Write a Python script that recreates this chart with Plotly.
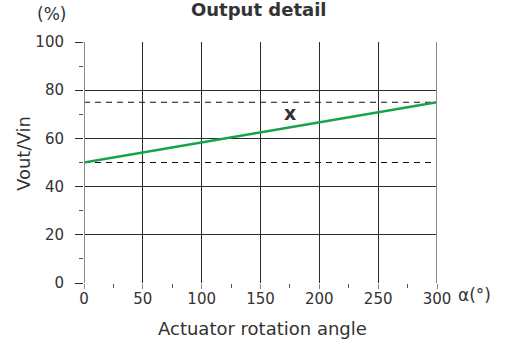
import plotly.graph_objects as go

angle = [0, 300]
ratio = [50, 75]
ref_levels = [75, 50]
x_ticks = [0, 50, 100, 150, 200, 250, 300]
y_ticks = [0, 20, 40, 60, 80, 100]

FONT = "DejaVu Sans"
TXT = "#333333"
GRID = "#2b2b2b"

L, R, T, B = 84, 437, 42, 283
def px(x):
    return (x - L) / (R - L)
def py(y):
    return (B - y) / (B - T)

fig = go.Figure()
for lv in ref_levels:
    fig.add_trace(go.Scatter(x=angle, y=[lv, lv], mode="lines",
                             line=dict(color="#111111", width=1, dash="6px,5px"),
                             showlegend=False, hoverinfo="skip"))
fig.add_trace(go.Scatter(x=angle, y=ratio, mode="lines",
                         line=dict(color="#14a54a", width=2.6),
                         showlegend=False))

def label(x, y, text, size, **kw):
    fig.add_annotation(x=px(x), y=py(y), xref="paper", yref="paper",
                       xanchor="center", yanchor="middle",
                       text=text, showarrow=False,
                       font=dict(family=FONT, size=size, color=TXT), **kw)

fig.add_annotation(x=175, y=70.5, text="<b>x</b>", showarrow=False,
                   xanchor="center", yanchor="middle",
                   font=dict(family=FONT, size=19, color=TXT))
label(258, 9, "<b>Output detail</b>", 18)
label(51, 14, "(%)", 17)
label(474, 295, "α(°)", 17)
label(262, 328, "Actuator rotation angle", 18)
label(23, 154, "Vout/Vin", 18, textangle=-90)

fig.update_xaxes(range=[0, 300], tickvals=x_ticks, showgrid=True,
                 gridcolor=GRID, gridwidth=1, zeroline=False,
                 showline=False, automargin=False,
                 ticks="outside", ticklen=5, tickcolor="#888888",
                 ticklabelstandoff=-3,
                 minor=dict(tickvals=[25, 75, 125, 175, 225, 275], ticks="outside",
                            ticklen=4, tickcolor="#555555", showgrid=False),
                 tickfont=dict(family=FONT, size=15, color=TXT))
fig.update_yaxes(range=[0, 100], tickvals=y_ticks, showgrid=True,
                 gridcolor=GRID, gridwidth=1, zeroline=False,
                 showline=False, automargin=False,
                 ticks="outside", ticklen=8, tickcolor=GRID,
                 ticklabelstandoff=8,
                 minor=dict(tickvals=[10, 30, 50, 70, 90], ticks="outside",
                            ticklen=4, tickcolor="#555555", showgrid=False),
                 tickfont=dict(family=FONT, size=15, color=TXT))

for xv in [0, 300]:
    fig.add_shape(type="line", x0=xv, x1=xv, y0=0, y1=100, xref="x", yref="y",
                  line=dict(color="#8a8a8a", width=2), layer="above")

fig.update_layout(width=507, height=343,
                  margin=dict(l=L, r=507 - R, t=T, b=343 - B),
                  paper_bgcolor="white", plot_bgcolor="white",
                  font=dict(family=FONT, color=TXT))

fig.write_html("out.html", config={"displayModeBar": False},
               post_script="document.body.style.margin='0';document.body.style.overflow='hidden';")
